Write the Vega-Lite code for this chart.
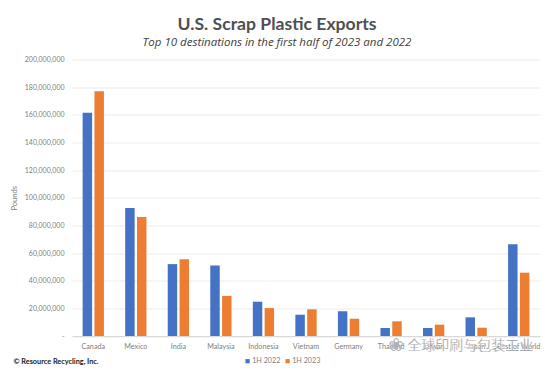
{
"$schema":"https://vega.github.io/schema/vega-lite/v6.json",
"width":468,"height":276.5,
"autosize":"none",
"padding":{"left":72,"top":59.5,"right":13,"bottom":41},
"background":"white",
"title":{"text":"U.S. Scrap Plastic Exports","subtitle":"Top 10 destinations in the first half of 2023 and 2022","anchor":"middle","dx":-29,"offset":7,"font":"Lato","fontSize":17.6,"fontWeight":"bold","color":"#505050","subtitleFont":"Open Sans","subtitleFontSize":11.5,"subtitleFontStyle":"italic","subtitleColor":"#404040","subtitlePadding":3},
"config":{"view":{"stroke":null},"font":"Lato"},
"encoding":{
"x":{"field":"c","type":"nominal","sort":null,"scale":{"domain":["Canada","Mexico","India","Malaysia","Indonesia","Vietnam","Germany","Thailand","Taiwan","Japan","Rest of World"],"paddingInner":0.5,"paddingOuter":0.25},
"axis":{"title":"© Resource Recycling, Inc.","titleX":-59,"titleY":25,"titleAlign":"left","titleAnchor":"start","titleBaseline":"middle","titleFont":"Lato","titleFontSize":7.3,"titleFontWeight":"bold","titleColor":"#1a1a1a","labelAngle":0,"labelFontSize":7.2,"labelColor":"#808080","labelPadding":6,"ticks":false,"domainColor":"#d9d9d9","grid":false}},
"y":{"field":"v","type":"quantitative","scale":{"domain":[0,200000000],"nice":false},
"axis":{"title":"Pounds","titleFont":"Lato","titleFontSize":7.5,"titleFontWeight":"normal","titleColor":"#808080","titleX":-54,"labelOverlap":false,"values":[0,20000000,40000000,60000000,80000000,100000000,120000000,140000000,160000000,180000000,200000000],"labelExpr":"datum.value===0?'-':format(datum.value,',')","labelFontSize":7,"labelColor":"#808080","labelPadding":8,"ticks":false,"domain":false,"gridColor":"#ececec","gridWidth":1}}
},
"layer":[
{"data":{"values":[
{"c":"Canada","s":"1H 2022","v":161500000},{"c":"Canada","s":"1H 2023","v":177000000},
{"c":"Mexico","s":"1H 2022","v":92600000},{"c":"Mexico","s":"1H 2023","v":86000000},
{"c":"India","s":"1H 2022","v":52000000},{"c":"India","s":"1H 2023","v":55500000},
{"c":"Malaysia","s":"1H 2022","v":51000000},{"c":"Malaysia","s":"1H 2023","v":29000000},
{"c":"Indonesia","s":"1H 2022","v":24800000},{"c":"Indonesia","s":"1H 2023","v":20200000},
{"c":"Vietnam","s":"1H 2022","v":15400000},{"c":"Vietnam","s":"1H 2023","v":19300000},
{"c":"Germany","s":"1H 2022","v":17900000},{"c":"Germany","s":"1H 2023","v":12500000},
{"c":"Thailand","s":"1H 2022","v":5800000},{"c":"Thailand","s":"1H 2023","v":10600000},
{"c":"Taiwan","s":"1H 2022","v":5800000},{"c":"Taiwan","s":"1H 2023","v":8200000},
{"c":"Japan","s":"1H 2022","v":13500000},{"c":"Japan","s":"1H 2023","v":6000000},
{"c":"Rest of World","s":"1H 2022","v":66300000},{"c":"Rest of World","s":"1H 2023","v":45800000}
]},
"mark":{"type":"bar"},
"encoding":{
"xOffset":{"field":"s","type":"nominal","scale":{"paddingInner":0.2}},
"color":{"field":"s","type":"nominal","scale":{"domain":["1H 2022","1H 2023"],"range":["#4472C4","#ED7D31"]},
"legend":{"title":null,"orient":"none","legendX":172,"legendY":298,"direction":"horizontal","symbolType":"square","symbolSize":18,"labelFontSize":7.2,"labelColor":"#808080","symbolStrokeWidth":0,"columnPadding":3,"labelOffset":1}}
}},
{"data":{"values":[{"c":"Japan","v":-7300000,"t":"全球印刷与包装工业"}]},
"mark":{"type":"text","font":"Noto Sans CJK SC","fontSize":14,"color":"#8c8c8c","stroke":"white","strokeWidth":0.3,"dx":-6},
"encoding":{"text":{"field":"t"}}},
{"data":{"values":[{"c":"Thailand","v":-7300000,"t":"❀"}]},
"mark":{"type":"text","font":"DejaVu Sans","fontSize":18,"color":"#b0b0b0","dx":5},
"encoding":{"text":{"field":"t"}}}
]
}
